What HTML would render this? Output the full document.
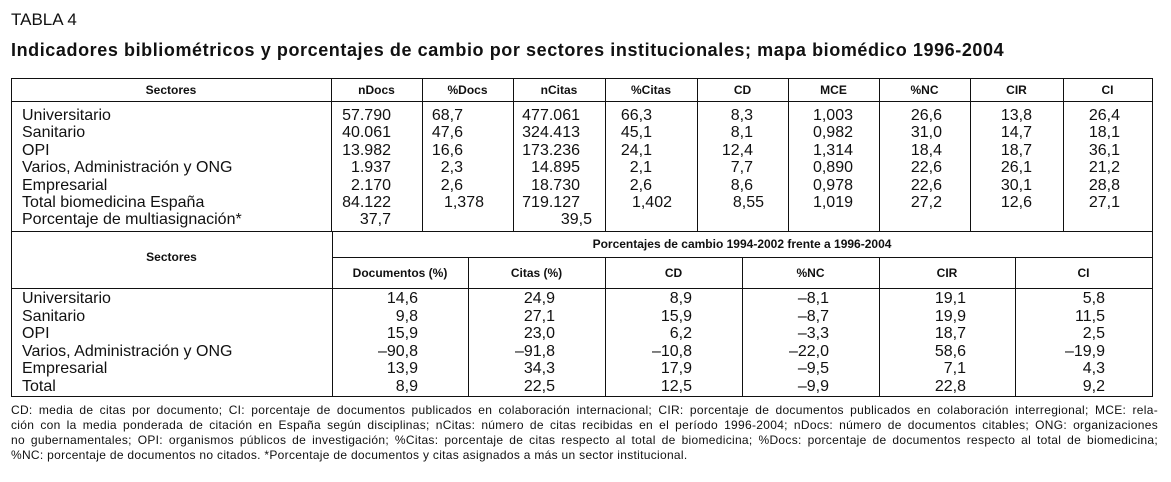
<!DOCTYPE html>
<html><head><meta charset="utf-8">
<style>
body{margin:0;background:#fff;width:1171px;height:482px;position:relative;overflow:hidden;font-family:"Liberation Sans",sans-serif;color:#111}
.a{position:absolute;white-space:nowrap}
.t{font-size:16px;line-height:17px}
.h{font-size:12px;font-weight:bold;line-height:14px;transform:translateX(-50%)}
.r{transform:translateX(-100%)}
.ln{position:absolute;background:#111}
.fl{height:15px;white-space:nowrap;text-align:justify;text-align-last:justify;overflow:hidden}
.fl.last{text-align-last:left}
</style></head><body>
<div class="a" style="left:11px;top:10px;font-size:17px">TABLA 4</div>
<div class="a" style="left:11px;top:40px;font-size:18px;font-weight:bold;letter-spacing:0.58px">Indicadores bibliométricos y porcentajes de cambio por sectores institucionales; mapa biomédico 1996-2004</div>
<div id="tbl"></div>
<div class="a" style="left:11px;top:403px;width:1147px;font-size:12px;line-height:15px;letter-spacing:0.3px">
<div class="fl">CD: media de citas por documento; CI: porcentaje de documentos publicados en colaboración internacional; CIR: porcentaje de documentos publicados en colaboración interregional; MCE: rela-</div>
<div class="fl">ción con la media ponderada de citación en España según disciplinas; nCitas: número de citas recibidas en el período 1996-2004; nDocs: número de documentos citables; ONG: organizaciones</div>
<div class="fl">no gubernamentales; OPI: organismos públicos de investigación; %Citas: porcentaje de citas respecto al total de biomedicina; %Docs: porcentaje de documentos respecto al total de biomedicina;</div>
<div class="fl last">%NC: porcentaje de documentos no citados. *Porcentaje de documentos y citas asignados a más un sector institucional.</div>
</div>
<script>
const topHeaders=["nDocs","%Docs","nCitas","%Citas","CD","MCE","%NC","CIR","CI"];
const topSectors=["Universitario","Sanitario","OPI","Varios, Administración y ONG","Empresarial","Total biomedicina España","Porcentaje de multiasignación*"];
const topValues=[
["57.790","68,7","477.061","66,3","8,3","1,003","26,6","13,8","26,4"],
["40.061","47,6","324.413","45,1","8,1","0,982","31,0","14,7","18,1"],
["13.982","16,6","173.236","24,1","12,4","1,314","18,4","18,7","36,1"],
["1.937","2,3","14.895","2,1","7,7","0,890","22,6","26,1","21,2"],
["2.170","2,6","18.730","2,6","8,6","0,978","22,6","30,1","28,8"],
["84.122","1,378","719.127","1,402","8,55","1,019","27,2","12,6","27,1"],
["37,7","","39,5","","","","","",""]];
const botHeaders=["Documentos (%)","Citas (%)","CD","%NC","CIR","CI"];
const botSectors=["Universitario","Sanitario","OPI","Varios, Administración y ONG","Empresarial","Total"];
const botValues=[
["14,6","24,9","8,9","–8,1","19,1","5,8"],
["9,8","27,1","15,9","–8,7","19,9","11,5"],
["15,9","23,0","6,2","–3,3","18,7","2,5"],
["–90,8","–91,8","–10,8","–22,0","58,6","–19,9"],
["13,9","34,3","17,9","–9,5","7,1","4,3"],
["8,9","22,5","12,5","–9,9","22,8","9,2"]];
const T=document.getElementById('tbl');
function line(x,y,w,h,n){const d=document.createElement('div');d.className='ln';d.style.cssText=`left:${x}px;top:${y}px;width:${w}px;height:${h}px`;


T.appendChild(d);}
function txt(s,x,y,cls,n){const d=document.createElement('div');d.className='a '+cls;d.textContent=s;d.style.left=x+'px';d.style.top=y+'px';


T.appendChild(d);}
const L=11,R=1152,Y0=78,Y1=101,Y2=231,Y3=257,Y4=288,Y5=396;
const tc=[331,422,513,605,697,788,879,970,1063,R];
const bc=[332,468,605,742,879,1015,R];
line(L,Y0,R-L+1,1,'table-top-border');line(L,Y1,R-L+1,1,'header-rule');line(L,Y2,R-L+1,1,'section-rule');
line(332,Y3,R-332+1,1,'group-header-rule');line(L,Y4,R-L+1,1,'subheader-rule');line(L,Y5,R-L+1,1,'table-bottom-border');
line(L,Y0,1,Y5-Y0+1,'left-border');
tc.forEach((x,i)=>line(x,Y0,1,Y2-Y0,'top-col-rule'));
bc.forEach((x,i)=>{ if(i==0||i==bc.length-1) line(x,Y2,1,Y5-Y2,'bottom-col-rule'); else line(x,Y3,1,Y5-Y3,'bottom-col-rule');});
txt("Sectores",(L+331)/2,83,'h','sectores-header');
topHeaders.forEach((h,i)=>txt(h,(tc[i]+tc[i+1])/2,83,'h','col-header-'+i));
const topRight=[391,463,580,652,753,853,942,1032,1120];
const topRightAlt={5:{1:484,3:672,4:764},6:{0:391,2:592}};
topSectors.forEach((s,r)=>{const y=107+r*17.4;txt(s,22,y,'t','sector-label');
 topValues[r].forEach((v,c)=>{if(!v)return;let x=topRight[c];if(topRightAlt[r]&&topRightAlt[r][c])x=topRightAlt[r][c];txt(v,x,y,'t r','value-cell');});});
txt("Sectores",(L+332)/2,250,'h','sectores-header-2');
txt("Porcentajes de cambio 1994-2002 frente a 1996-2004",(332+R)/2,237,'h','group-header');
botHeaders.forEach((h,i)=>txt(h,(bc[i]+bc[i+1])/2,266,'h','sub-header-'+i));
const botRight=[418,555,692,829,966,1105];
botSectors.forEach((s,r)=>{const y=290+r*17.5;txt(s,22,y,'t','sector-label');
 botValues[r].forEach((v,c)=>txt(v,botRight[c],y,'t r','change-cell'));});
</script>
</body></html>
